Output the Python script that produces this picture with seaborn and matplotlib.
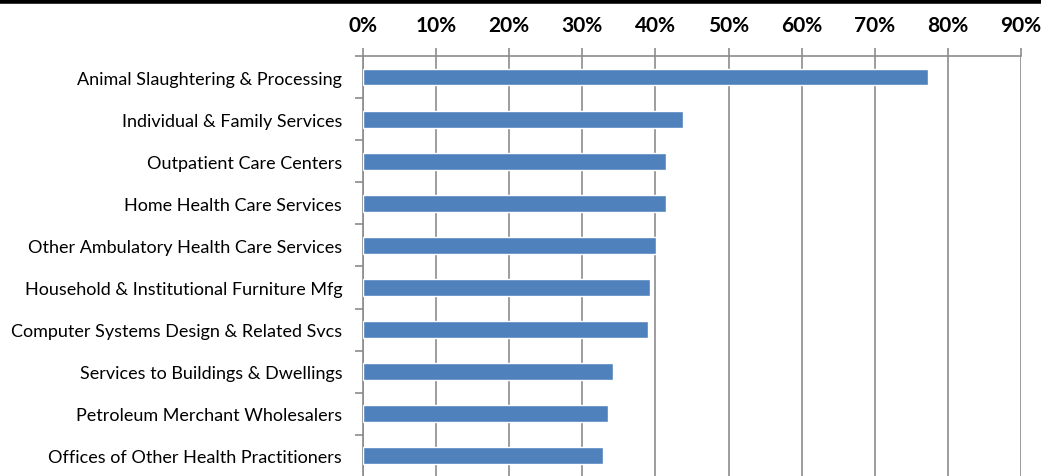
import numpy as np
import pandas as pd
import seaborn as sns
import matplotlib.pyplot as plt
from matplotlib.ticker import FixedLocator, PercentFormatter

industries = [
    "Animal Slaughtering & Processing",
    "Individual & Family Services",
    "Outpatient Care Centers",
    "Home Health Care Services",
    "Other Ambulatory Health Care Services",
    "Household & Institutional Furniture Mfg",
    "Computer Systems Design & Related Svcs",
    "Services to Buildings & Dwellings",
    "Petroleum Merchant Wholesalers",
    "Offices of Other Health Practitioners",
]
shares = [77.3, 43.8, 41.5, 41.5, 40.1, 39.3, 39.0, 34.2, 33.5, 32.8]
x_ticks = [0, 10, 20, 30, 40, 50, 60, 70, 80, 90]

df = pd.DataFrame({"industry": industries, "share": shares})

sns.set_theme(style="white")
plt.rcParams["font.family"] = ["Lato", "DejaVu Sans"]

fig = plt.figure(figsize=(10.41, 4.77), dpi=100)
ax = fig.add_axes([0.3487, -0.002, 0.6321, 0.8825])

sns.barplot(data=df, x="share", y="industry", orient="h", color="#4F81BD",
            saturation=1, width=0.4, ax=ax, zorder=3)

grid_col = "#8c8c8c"
ax.set_xlim(0, 90)
ax.set_ylim(len(industries) - 0.5, -0.5)
ax.xaxis.set_major_locator(FixedLocator(x_ticks))
ax.xaxis.set_major_formatter(PercentFormatter(decimals=0))
ax.xaxis.tick_top()
ax.grid(axis="x", color=grid_col, linewidth=1.2, zorder=0)
ax.tick_params(axis="x", which="major", top=True, bottom=False, direction="out",
               length=6, width=1.2, color=grid_col, labelsize=15, pad=9,
               labelcolor="black")
for lbl in ax.get_xticklabels():
    lbl.set_fontweight("bold")

ax.yaxis.set_minor_locator(FixedLocator(np.arange(-0.5, len(industries), 1)))
ax.tick_params(axis="y", which="major", left=False, labelsize=13, pad=9,
               labelcolor="black")
ax.tick_params(axis="y", which="minor", left=True, direction="out",
               length=6, width=1.2, color=grid_col)
ax.set_xlabel("")
ax.set_ylabel("")

for side in ["right", "bottom"]:
    ax.spines[side].set_visible(False)
for side in ["top", "left"]:
    ax.spines[side].set_color(grid_col)
    ax.spines[side].set_linewidth(1.2)

# thick black frame line along top edge
fig.add_artist(plt.Line2D([0, 1], [0.996, 0.996], color="black", linewidth=4,
                          transform=fig.transFigure))

fig.savefig("out.png", dpi=100)
